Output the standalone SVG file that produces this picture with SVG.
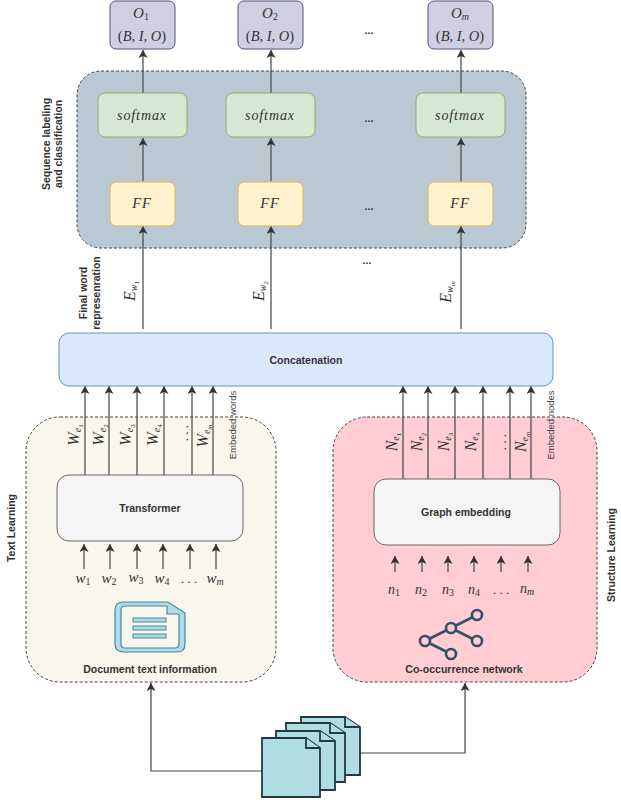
<svg xmlns="http://www.w3.org/2000/svg" width="621" height="800" viewBox="0 0 621 800">
<defs>
<marker id="ah" markerUnits="userSpaceOnUse" markerWidth="10" markerHeight="10" refX="8" refY="4.5" orient="auto"><path d="M0 0L8 4.5L0 9L2 4.5Z" fill="#333"/></marker>
</defs>
<style>
.s{font-family:"Liberation Sans",Arial,sans-serif;font-weight:bold;fill:#333;text-anchor:middle;font-size:10.5px}
.r{font-family:"Liberation Sans",Arial,sans-serif;fill:#444;text-anchor:middle;font-size:9.5px}
.m{font-family:"Liberation Serif","Times New Roman",serif;font-style:italic;fill:#333;text-anchor:middle}
.p{font-family:"Liberation Serif","Times New Roman",serif;fill:#333;text-anchor:middle}
.l{stroke:#444;stroke-width:1.2;fill:none}
.a{stroke:#444;stroke-width:1.2;fill:none;marker-end:url(#ah)}
.dash{stroke:#444;stroke-width:1;stroke-dasharray:3 2}
.doc{fill:#b0dde4;stroke:#23383f;stroke-width:1.8}
.sb{font-size:10px}
.ss{font-size:7px}
.n{font-style:normal}
</style>
<g id="seq-panel"><rect x="77" y="71" width="449" height="177" rx="24" fill="#bac8d3" class="dash"/></g>
<g id="text-panel"><rect x="26" y="417" width="250" height="265" rx="34" fill="#f9f7ed" class="dash"/></g>
<g id="struct-panel"><rect x="333" y="417" width="264" height="265" rx="34" fill="#ffcdd2" class="dash"/></g>
<g id="connectors">
<path class="a" d="M143 93V50"/><path class="a" d="M271 93V50"/><path class="a" d="M461 93V50"/>
<path class="a" d="M143 181V138"/><path class="a" d="M271 181V138"/><path class="a" d="M461 181V138"/>
<path class="a" d="M143 329V226"/><path class="a" d="M271 329V226"/><path class="a" d="M461 329V226"/>
<path class="a" d="M85 475V386"/><path class="a" d="M109 475V386"/><path class="a" d="M137 475V386"/><path class="a" d="M164 475V386"/><path class="a" d="M192 475V386"/><path class="a" d="M213 475V386"/>
<path class="a" d="M403 479V386"/><path class="a" d="M428 479V386"/><path class="a" d="M455 479V386"/><path class="a" d="M483 479V386"/><path class="a" d="M510 479V386"/><path class="a" d="M531 479V386"/>
<path class="a" d="M84 569V544"/><path class="a" d="M110 569V544"/><path class="a" d="M137 569V544"/><path class="a" d="M163 569V544"/><path class="a" d="M190 569V544"/><path class="a" d="M216 569V544"/>
<path class="a" d="M395 572V556"/><path class="a" d="M422 572V556"/><path class="a" d="M448 572V556"/><path class="a" d="M474 572V556"/><path class="a" d="M501 572V556"/><path class="a" d="M528 572V556"/>
<path class="a" d="M262 771H151V683"/><path class="a" d="M360 753H465V683"/>
</g>
<g id="o1"><rect x="110" y="1" width="65" height="48" rx="6" fill="#d0cee2" stroke="#56517e"/><text class="m" x="141" y="18" font-size="15">O<tspan class="sb n" dy="2">1</tspan></text><text class="p" x="142" y="41" font-size="14.5">(<tspan font-style="italic">B, I, O</tspan>)</text></g>
<g id="o2"><rect x="238" y="1" width="65" height="48" rx="6" fill="#d0cee2" stroke="#56517e"/><text class="m" x="270" y="18" font-size="15">O<tspan class="sb n" dy="2">2</tspan></text><text class="p" x="270" y="41" font-size="14.5">(<tspan font-style="italic">B, I, O</tspan>)</text></g>
<g id="om"><rect x="428" y="1" width="65" height="48" rx="6" fill="#d0cee2" stroke="#56517e"/><text class="m" x="460" y="18" font-size="15">O<tspan class="sb" dy="2">m</tspan></text><text class="p" x="460" y="41" font-size="14.5">(<tspan font-style="italic">B, I, O</tspan>)</text></g>
<g id="sm1"><rect x="98" y="93" width="89" height="44" rx="7" fill="#d5e8d4" stroke="#82b366"/><text class="m" x="142" y="120" font-size="14" letter-spacing=".9">softmax</text></g>
<g id="sm2"><rect x="226" y="93" width="89" height="44" rx="7" fill="#d5e8d4" stroke="#82b366"/><text class="m" x="270" y="120" font-size="14" letter-spacing=".9">softmax</text></g>
<g id="smm"><rect x="416" y="93" width="89" height="44" rx="7" fill="#d5e8d4" stroke="#82b366"/><text class="m" x="460" y="120" font-size="14" letter-spacing=".9">softmax</text></g>
<g id="ff1"><rect x="110" y="182" width="65" height="44" rx="6" fill="#fff2cc" stroke="#d6b656"/><text class="m" x="142" y="208" font-size="14.5" letter-spacing="1">FF</text></g>
<g id="ff2"><rect x="238" y="182" width="65" height="44" rx="6" fill="#fff2cc" stroke="#d6b656"/><text class="m" x="270" y="208" font-size="14.5" letter-spacing="1">FF</text></g>
<g id="ffm"><rect x="428" y="182" width="65" height="44" rx="6" fill="#fff2cc" stroke="#d6b656"/><text class="m" x="460" y="208" font-size="14.5" letter-spacing="1">FF</text></g>
<g id="concat"><rect x="59" y="333" width="494" height="53" rx="10" fill="#dae8fc" stroke="#6c8ebf"/><text class="s" x="306" y="364">Concatenation</text></g>
<g id="transformer"><rect x="57" y="475" width="186" height="66" rx="12" fill="#f5f5f5" stroke="#666"/><text class="s" x="150" y="512">Transformer</text></g>
<g id="graph"><rect x="374" y="479" width="186" height="66" rx="12" fill="#f5f5f5" stroke="#666"/><text class="s" x="466" y="516">Graph embedding</text></g>
<g id="dots">
<text class="s" x="369" y="34">...</text><text class="s" x="369" y="122">...</text><text class="s" x="369" y="210">...</text><text class="s" x="367" y="264">...</text>
</g>
<g id="side-labels">
<text class="s" transform="translate(50 144) rotate(-90)">Sequence labeling</text>
<text class="s" transform="translate(62 144) rotate(-90)">and classification</text>
<text class="s" transform="translate(87 293) rotate(-90)">Final word</text>
<text class="s" transform="translate(100 293) rotate(-90)">represenration</text>
<text class="s" transform="translate(15 528) rotate(-90)">Text Learning</text>
<text class="s" transform="translate(615 555) rotate(-90)">Structure Learning</text>
<text class="r" transform="translate(236 425) rotate(-90)">Embeded words</text>
<text class="r" transform="translate(554 425) rotate(-90)">Embeded nodes</text>
</g>
<g id="edge-labels">
<text class="m" font-size="16" transform="translate(135 291) rotate(-90)">E<tspan class="sb" dy="2">w</tspan><tspan class="ss n" dy="1.5">1</tspan></text>
<text class="m" font-size="16" transform="translate(264 291) rotate(-90)">E<tspan class="sb" dy="2">w</tspan><tspan class="ss n" dy="1.5">2</tspan></text>
<text class="m" font-size="16" transform="translate(451 292) rotate(-90)">E<tspan class="sb" dy="2">w</tspan><tspan class="ss" dy="1.5">m</tspan></text>
<text class="m" font-size="16" transform="translate(79 435) rotate(-90)">W<tspan class="sb" dy="2">e</tspan><tspan class="ss n" dy="1.5">1</tspan></text>
<text class="m" font-size="16" transform="translate(104 435) rotate(-90)">W<tspan class="sb" dy="2">e</tspan><tspan class="ss n" dy="1.5">2</tspan></text>
<text class="m" font-size="16" transform="translate(131 435) rotate(-90)">W<tspan class="sb" dy="2">e</tspan><tspan class="ss n" dy="1.5">3</tspan></text>
<text class="m" font-size="16" transform="translate(158 435) rotate(-90)">W<tspan class="sb" dy="2">e</tspan><tspan class="ss n" dy="1.5">4</tspan></text>
<text class="p" font-size="13" transform="translate(188 433) rotate(-90)">. . .</text>
<text class="m" font-size="16" transform="translate(208 436) rotate(-90)">W<tspan class="sb" dy="2">e</tspan><tspan class="ss" dy="1.5">m</tspan></text>
<text class="m" font-size="16" transform="translate(397 442) rotate(-90)">N<tspan class="sb" dy="2">e</tspan><tspan class="ss n" dy="1.5">1</tspan></text>
<text class="m" font-size="16" transform="translate(422 442) rotate(-90)">N<tspan class="sb" dy="2">e</tspan><tspan class="ss n" dy="1.5">2</tspan></text>
<text class="m" font-size="16" transform="translate(449 442) rotate(-90)">N<tspan class="sb" dy="2">e</tspan><tspan class="ss n" dy="1.5">3</tspan></text>
<text class="m" font-size="16" transform="translate(476 442) rotate(-90)">N<tspan class="sb" dy="2">e</tspan><tspan class="ss n" dy="1.5">4</tspan></text>
<text class="p" font-size="13" transform="translate(506 442) rotate(-90)">. . .</text>
<text class="m" font-size="16" transform="translate(526 442) rotate(-90)">N<tspan class="sb" dy="2">e</tspan><tspan class="ss" dy="1.5">m</tspan></text>
<text class="m" font-size="15" x="83" y="583">w<tspan class="sb n" dy="2">1</tspan></text>
<text class="m" font-size="15" x="109" y="583">w<tspan class="sb n" dy="2">2</tspan></text>
<text class="m" font-size="15" x="136" y="582">w<tspan class="sb n" dy="2">3</tspan></text>
<text class="m" font-size="15" x="162" y="583">w<tspan class="sb n" dy="2">4</tspan></text>
<text class="p" font-size="13" x="189" y="583">. . .</text>
<text class="m" font-size="15" x="215" y="583">w<tspan class="sb" dy="2">m</tspan></text>
<text class="m" font-size="14" x="394" y="594">n<tspan class="sb n" dy="2">1</tspan></text>
<text class="m" font-size="14" x="421" y="594">n<tspan class="sb n" dy="2">2</tspan></text>
<text class="m" font-size="14" x="448" y="594">n<tspan class="sb n" dy="2">3</tspan></text>
<text class="m" font-size="14" x="474" y="594">n<tspan class="sb n" dy="2">4</tspan></text>
<text class="p" font-size="13" x="501" y="594">. . .</text>
<text class="m" font-size="14" x="527" y="593">n<tspan class="sb" dy="2">m</tspan></text>
</g>
<g id="doc-icon">
<path d="M124 602H168L185 613V644Q185 652 177 652H124Q115 652 115 644V610Q115 602 124 602Z" fill="#b0dde4" stroke="#3d8a9c" stroke-width="1.2"/>
<path d="M125 606H167V614H179V644Q179 648 175 648H125Q121 648 121 644V610Q121 606 125 606Z" fill="#f9f7ed" stroke="#3d8a9c" stroke-width="1.2"/>
<rect x="133" y="618" width="33" height="4" fill="#b0dde4" stroke="#3d8a9c"/><rect x="133" y="626" width="33" height="4" fill="#b0dde4" stroke="#3d8a9c"/><rect x="133" y="634" width="33" height="4" fill="#b0dde4" stroke="#3d8a9c"/>
<text class="s" x="150" y="673">Document text information</text>
</g>
<g id="net-icon">
<path d="M425 641L451 628L477 615M451 628L477 641M425 641L451 654" stroke="#35506b" stroke-width="2.6" fill="none"/>
<g fill="#ffcdd2" stroke="#35506b" stroke-width="2.6"><circle cx="425" cy="641" r="5"/><circle cx="451" cy="628" r="5"/><circle cx="477" cy="615" r="5"/><circle cx="477" cy="641" r="5"/><circle cx="451" cy="654" r="5"/></g>
<text class="s" x="464" y="673">Co-occurrence network</text>
</g>
<g id="docs">
<path class="doc" d="M301 717H345L360 727V775H301Z"/><path class="doc" d="M345 717V727H360"/>
<path class="doc" d="M286 723H330L345 733V782H286Z"/><path class="doc" d="M330 723V733H345"/>
<path class="doc" d="M276 731H320L335 741V790H276Z"/><path class="doc" d="M320 731V741H335"/>
<path class="doc" d="M262 738H306L320 748V797H262Z"/><path class="doc" d="M306 738V748H320"/>
</g>
</svg>
